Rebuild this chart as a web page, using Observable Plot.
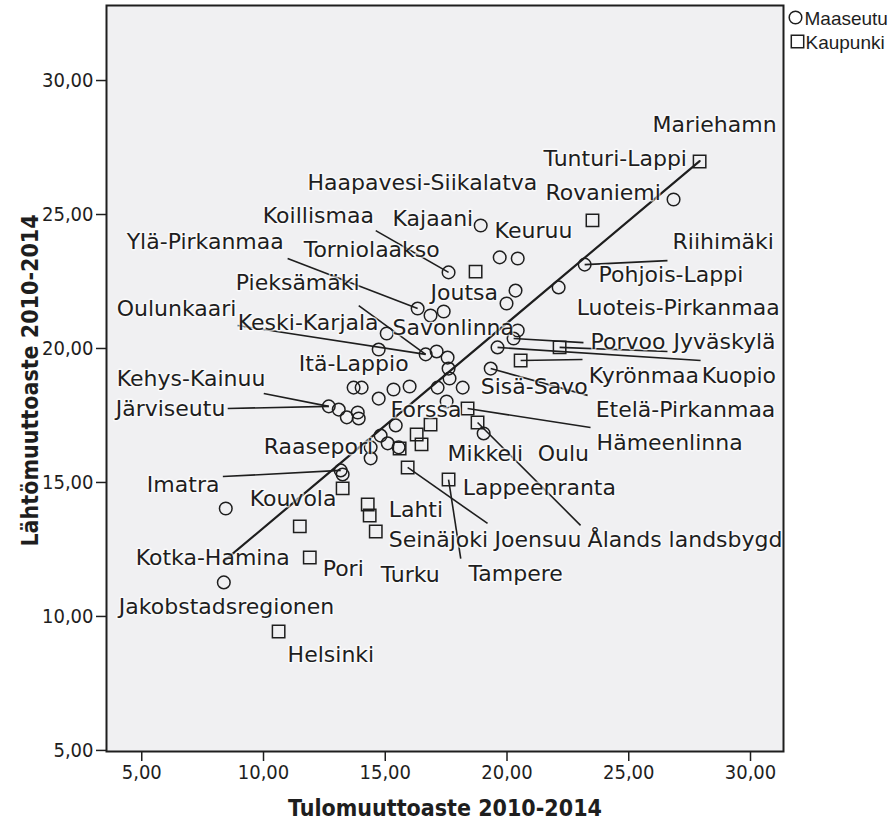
<!DOCTYPE html>
<html>
<head>
<meta charset="utf-8">
<script src="https://cdn.jsdelivr.net/npm/d3@7"></script>
<script src="https://cdn.jsdelivr.net/npm/@observablehq/plot@0.6"></script>
<style>
  html, body { margin: 0; padding: 0; background: #fff; }
  #chart { width: 894px; height: 829px; overflow: hidden; }
</style>
</head>
<body>
<div id="chart"></div>
<script>
// Maaseutu (rural regions) – circles
const ruralX = [26.84, 18.92, 19.70, 20.44, 17.60, 23.19, 22.12, 20.35, 19.98, 16.33, 16.86, 17.40, 20.44, 20.27, 19.61, 15.06, 14.73, 16.66, 17.11, 17.56, 17.60, 17.64, 19.33, 17.15, 18.18, 13.70, 14.03, 15.34, 16.00, 14.73, 17.52, 12.68, 13.09, 13.42, 13.87, 13.91, 15.43, 14.81, 15.10, 15.55, 14.40, 14.40, 13.17, 13.25, 8.45, 8.37, 19.04];
const ruralY = [25.56, 24.59, 23.40, 23.36, 22.84, 23.13, 22.28, 22.16, 21.68, 21.49, 21.23, 21.38, 20.67, 20.37, 20.04, 20.56, 19.96, 19.78, 19.89, 19.66, 19.25, 18.88, 19.25, 18.54, 18.54, 18.54, 18.54, 18.47, 18.58, 18.13, 18.02, 17.84, 17.72, 17.43, 17.61, 17.39, 17.13, 16.75, 16.46, 16.31, 16.31, 15.90, 15.45, 15.30, 14.03, 11.27, 16.83];

// Kaupunki (urban regions) – squares
const cityX = [27.91, 23.51, 18.71, 22.16, 20.56, 18.38, 18.79, 16.86, 16.29, 16.49, 15.59, 15.92, 17.60, 13.25, 14.28, 14.36, 14.61, 11.49, 11.90, 10.62];
const cityY = [26.98, 24.78, 22.87, 20.04, 19.55, 17.76, 17.24, 17.16, 16.79, 16.42, 16.27, 15.56, 15.11, 14.78, 14.18, 13.77, 13.17, 13.36, 12.20, 9.44];

// Point labels (as placed in the original chart, data units)
const labelNames = ["Mariehamn", "Tunturi-Lappi", "Haapavesi-Siikalatva", "Rovaniemi", "Koillismaa", "Kajaani", "Keuruu", "Ylä-Pirkanmaa", "Riihimäki", "Torniolaakso", "Pohjois-Lappi", "Pieksämäki", "Joutsa", "Oulunkaari", "Luoteis-Pirkanmaa", "Keski-Karjala", "Savonlinna", "Porvoo", "Jyväskylä", "Itä-Lappio", "Kyrönmaa", "Kuopio", "Kehys-Kainuu", "Sisä-Savo", "Etelä-Pirkanmaa", "Järviseutu", "Forssa", "Hämeenlinna", "Raasepori", "Mikkeli", "Oulu", "Imatra", "Lappeenranta", "Kouvola", "Lahti", "Seinäjoki", "Joensuu", "Ålands landsbygd", "Kotka-Hamina", "Pori", "Turku", "Tampere", "Jakobstadsregionen", "Helsinki"];
const labelX = [25.98, 21.50, 11.81, 21.58, 9.97, 15.30, 19.49, 4.38, 26.80, 11.65, 23.76, 8.86, 16.86, 3.97, 22.86, 8.94, 15.30, 23.43, 26.84, 11.45, 23.36, 28.00, 3.97, 18.92, 23.64, 3.93, 15.22, 23.68, 10.01, 17.56, 21.26, 5.21, 18.18, 9.43, 15.14, 15.14, 19.49, 23.31, 4.75, 12.43, 14.81, 18.42, 4.06, 10.99];
const labelY = [28.36, 27.09, 26.19, 25.82, 24.93, 24.85, 24.37, 23.96, 23.96, 23.66, 22.76, 22.43, 22.09, 21.49, 21.53, 20.97, 20.75, 20.26, 20.26, 19.44, 18.99, 18.99, 18.88, 18.58, 17.69, 17.76, 17.69, 16.46, 16.34, 16.08, 16.08, 14.89, 14.78, 14.40, 13.99, 12.84, 12.84, 12.84, 12.20, 11.79, 11.53, 11.57, 10.37, 8.58];

// Label leader lines: from a point to its label
const leaderX1 = [17.60, 16.33, 16.66, 16.66, 12.68, 12.68, 13.17, 23.19, 20.27, 22.16, 19.61, 20.56, 19.33, 18.38, 18.79, 15.92, 17.60];
const leaderY1 = [22.84, 21.49, 19.78, 19.78, 17.84, 17.84, 15.45, 23.13, 20.37, 20.04, 20.04, 19.55, 19.25, 17.76, 17.24, 15.56, 15.11];
const leaderX2 = [14.61, 10.99, 13.91, 8.94, 10.01, 8.53, 8.33, 26.59, 23.14, 26.59, 27.95, 23.10, 23.31, 23.43, 23.02, 19.20, 18.10];
const leaderY2 = [24.40, 23.36, 21.60, 20.86, 18.32, 17.76, 15.22, 23.28, 20.22, 19.89, 19.55, 19.59, 18.25, 17.05, 13.40, 13.47, 12.16];

const xTicks = [5, 10, 15, 20, 25, 30];
const yTicks = [5, 10, 15, 20, 25, 30];
const xTitle = "Tulomuuttoaste 2010-2014";
const yTitle = "Lähtömuuttoaste 2010-2014";
const legendNames = ["Maaseutu", "Kaupunki"];

// Tables built from the arrays
const rural = ruralX.map((x, i) => ({x, y: ruralY[i], type: legendNames[0]}));
const city = cityX.map((x, i) => ({x, y: cityY[i], type: legendNames[1]}));
const all = rural.concat(city);
const labels = labelNames.map((name, i) => ({name, x: labelX[i], y: labelY[i]}));
const leaders = leaderX1.map((x1, i) => ({x1, y1: leaderY1[i], x2: leaderX2[i], y2: leaderY2[i]}));

const fmt = d => d.toFixed(2).replace(".", ",");
const narrow = "'Liberation Sans Narrow', 'Arial Narrow', 'DejaVu Sans Condensed', sans-serif";
const ink = "#1e1e1e";

const chart = Plot.plot({
  width: 894,
  height: 829,
  marginLeft: 106,
  marginRight: 111,
  marginTop: 5,
  marginBottom: 78,
  style: {fontFamily: narrow, fontSize: "20px", color: ink, background: "#fff", overflow: "visible"},
  x: {domain: [3.552, 31.355], label: null},
  y: {domain: [4.96, 32.8], label: null},
  marks: [
    Plot.frame({fill: "#f0f0f2", stroke: null}),
    Plot.axisX({ticks: xTicks, tickFormat: fmt, tickSize: 10, tickPadding: 3, fontSize: 20, fontFamily: narrow, stroke: ink, strokeWidth: 1.5, label: null}),
    Plot.axisY({ticks: yTicks, tickFormat: fmt, tickSize: 10, tickPadding: 3, fontSize: 20, fontFamily: narrow, stroke: ink, strokeWidth: 1.5, label: null}),
    Plot.link(leaders, {x1: "x1", y1: "y1", x2: "x2", y2: "y2", stroke: ink, strokeWidth: 1.6}),
    Plot.linearRegressionY(all, {x: "x", y: "y", ci: 0, stroke: ink, strokeWidth: 2.2}),
    Plot.dot(rural, {x: "x", y: "y", symbol: "circle", r: 6.3, stroke: ink, strokeWidth: 1.5, fill: "none"}),
    Plot.dot(city, {x: "x", y: "y", symbol: "square", r: 7, stroke: ink, strokeWidth: 1.5, fill: "none"}),
    Plot.text(labels, {x: "x", y: "y", text: "name", textAnchor: "start", fontSize: 22, fontFamily: "'DejaVu Sans', sans-serif", fill: ink, stroke: "#ffffff", strokeWidth: 3, strokeOpacity: 0.65}),
    Plot.frame({stroke: ink, strokeWidth: 2}),
    // axis titles
    Plot.text([xTitle], {frameAnchor: "bottom", dy: 57, textAnchor: "middle", lineAnchor: "middle", fontSize: 23, fontWeight: "bold", fontFamily: narrow, fill: ink}),
    Plot.text([yTitle], {frameAnchor: "left", dx: -76, dy: 2, rotate: -90, textAnchor: "middle", lineAnchor: "middle", fontSize: 23, fontWeight: "bold", fontFamily: narrow, fill: ink}),
    // legend
    Plot.dot([legendNames[0]], {frameAnchor: "top-right", dx: 12, dy: 12, symbol: "circle", r: 6.3, stroke: ink, strokeWidth: 1.5, fill: "none"}),
    Plot.dot([legendNames[1]], {frameAnchor: "top-right", dx: 14, dy: 36, symbol: "square", r: 7, stroke: ink, strokeWidth: 1.5, fill: "none"}),
    Plot.text([legendNames[0]], {frameAnchor: "top-right", dx: 21, dy: 13, text: d => d, textAnchor: "start", lineAnchor: "middle", fontSize: 19, fontFamily: "'Liberation Sans', Arial, sans-serif", fill: ink}),
    Plot.text([legendNames[1]], {frameAnchor: "top-right", dx: 22, dy: 37, text: d => d, textAnchor: "start", lineAnchor: "middle", fontSize: 19, fontFamily: "'Liberation Sans', Arial, sans-serif", fill: ink})
  ]
});
document.getElementById("chart").appendChild(chart);
</script>
</body>
</html>
